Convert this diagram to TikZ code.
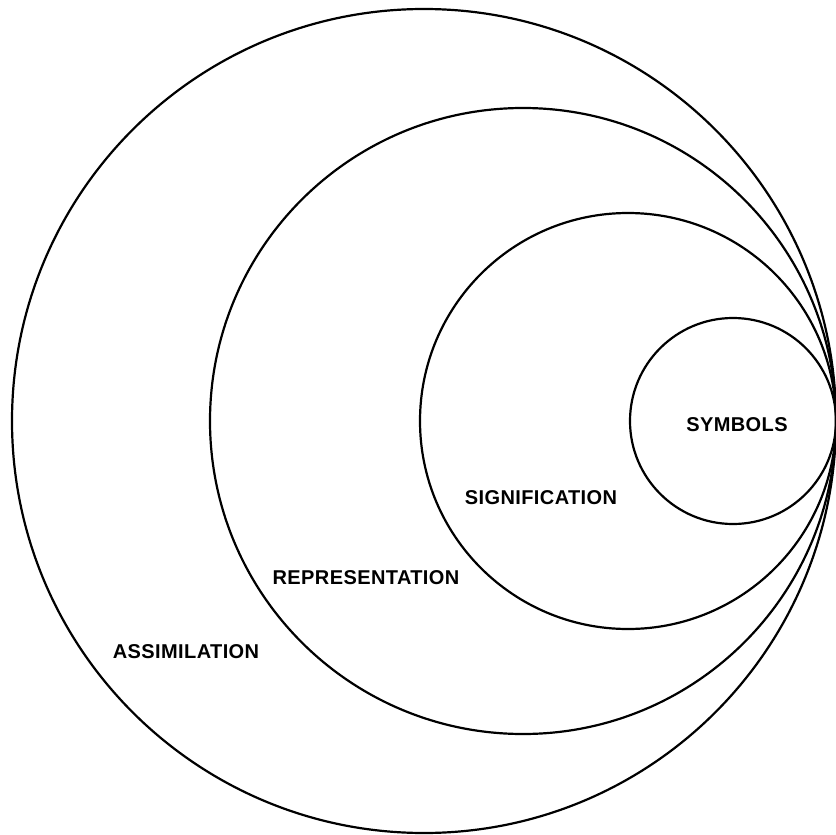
\documentclass[tikz,border=0pt]{standalone}
\usepackage{fontspec}
\newfontfamily\labfont[LetterSpace=2]{Liberation Sans}
\tikzset{
  ring/.style={draw=black, line width=2.2pt},
  lab/.style={font=\labfont\fontsize{20}{20}\selectfont\bfseries, inner sep=0pt}
}
\begin{document}
\begin{tikzpicture}[x=1pt,y=-1pt]
\useasboundingbox (0,0) rectangle (836,835);
\draw[ring] (424,421) circle (412);
\draw[ring] (523,421) circle (313);
\draw[ring] (628,421) circle (208);
\draw[ring] (733,421) circle (103);
\node[lab] (sym) at (737,425) {SYMBOLS};
\node[lab] (sig) at (541,498) {SIGNIFICATION};
\node[lab] (rep) at (366,578) {REPRESENTATION};
\node[lab] (ass) at (186,652) {ASSIMILATION};
\end{tikzpicture}
\end{document}
